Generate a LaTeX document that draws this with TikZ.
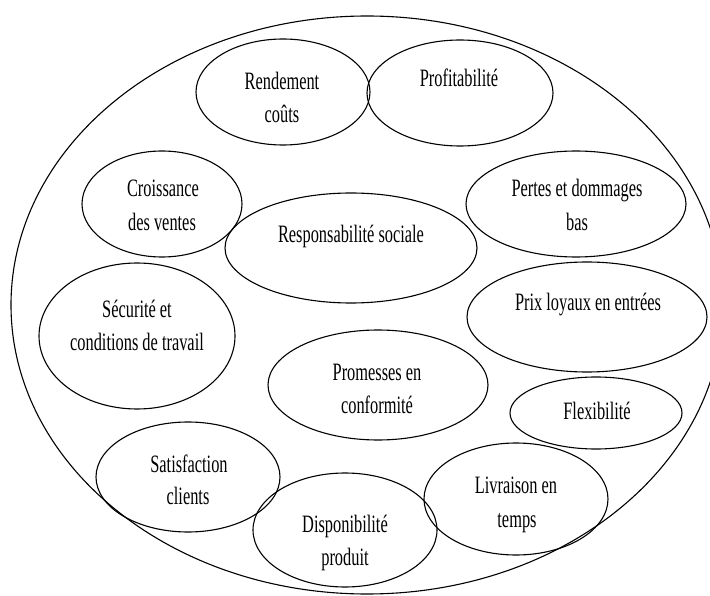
\documentclass[tikz,border=0pt]{standalone}
\usepackage{fontspec}
\setmainfont{Liberation Serif}[FakeStretch=0.655]
\usetikzlibrary{shapes.geometric}
\begin{document}
\begin{tikzpicture}[x=1pt,y=-1pt,
  oval/.style={draw=black, line width=1.1pt, ellipse, inner sep=0pt},
  lbl/.style={anchor=base, inner sep=0pt, font=\fontsize{25}{33}\selectfont, text=black}]
\useasboundingbox (0,0) rectangle (710,596);
\fill[white] (0,0) rectangle (710,596);
% outer ellipse (its right edge runs just past the picture)
\node[oval, minimum width=712pt, minimum height=578pt] (big) at (367,305) {};
% inner ellipses
\node[oval, minimum width=174pt, minimum height=106pt] (e1) at (283,92) {};
\node[oval, minimum width=186pt, minimum height=106pt] (e2) at (460,93) {};
\node[oval, minimum width=160pt, minimum height=106pt] (e3) at (162,204) {};
\node[oval, minimum width=252pt, minimum height=110pt] (e4) at (351,248) {};
\node[oval, minimum width=220pt, minimum height=106pt] (e5) at (576,204) {};
\node[oval, minimum width=196pt, minimum height=146pt] (e6) at (137,336) {};
\node[oval, minimum width=240pt, minimum height=110pt] (e7) at (587,317) {};
\node[oval, minimum width=220pt, minimum height=110pt] (e8) at (378,385) {};
\node[oval, minimum width=172pt, minimum height=72pt] (e9) at (596,413) {};
\node[oval, minimum width=184pt, minimum height=110pt] (e10) at (188,477) {};
\node[oval, minimum width=184pt, minimum height=114pt] (e11) at (345,530) {};
\node[oval, minimum width=184pt, minimum height=112pt] (e12) at (516,499) {};
% labels
\node[lbl] (t1a) at (282,90) {Rendement};
\node[lbl] (t1b) at (282,123) {coûts};
\node[lbl] (t2) at (459,87) {Profitabilité};
\node[lbl] (t3a) at (163,197) {Croissance};
\node[lbl] (t3b) at (162,231) {des ventes};
\node[lbl] (t4) at (351,243) {Responsabilité sociale};
\node[lbl] (t5a) at (577,197) {Pertes et dommages};
\node[lbl] (t5b) at (577,231) {bas};
\node[lbl] (t6a) at (137,317) {Sécurité et};
\node[lbl] (t6b) at (137,350) {conditions de travail};
\node[lbl] (t7) at (588,310) {Prix loyaux en entrées};
\node[lbl] (t8a) at (377,380) {Promesses en};
\node[lbl] (t8b) at (377,413) {conformité};
\node[lbl] (t9) at (597,419) {Flexibilité};
\node[lbl] (t10a) at (189,472) {Satisfaction};
\node[lbl] (t10b) at (188,504) {clients};
\node[lbl] (t11a) at (345,532) {Disponibilité};
\node[lbl] (t11b) at (345,565) {produit};
\node[lbl] (t12a) at (516,493) {Livraison en};
\node[lbl] (t12b) at (517,527) {temps};
\end{tikzpicture}
\end{document}
